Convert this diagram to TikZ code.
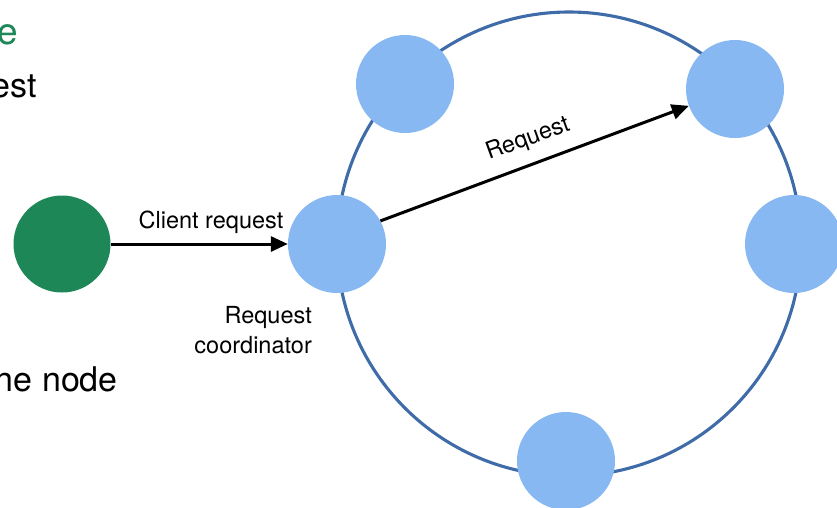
\documentclass[tikz,border=0pt]{standalone}
\usepackage{fontspec}
\setmainfont{TeX Gyre Heros}
\usetikzlibrary{arrows.meta}
\definecolor{nodeblue}{HTML}{88B8F2}
\definecolor{ringblue}{HTML}{3F6CA8}
\definecolor{clientgreen}{HTML}{1E8757}
\begin{document}
\begin{tikzpicture}[x=1pt,y=-1pt,
  server/.style={circle, fill=nodeblue, minimum size=98pt, inner sep=0pt},
  client/.style={circle, fill=clientgreen, minimum size=97pt, inner sep=0pt},
  ringstyle/.style={circle, draw=ringblue, line width=3.1pt, minimum size=464pt, inner sep=0pt},
  arrowline/.style={line width=3pt, -{Triangle[length=17pt,width=15pt]}},
  lbl/.style={font=\fontsize{23.5}{30}\selectfont, inner sep=0pt},
  big/.style={font=\fontsize{34}{40}\selectfont, inner sep=0pt}]
\clip (0,0) rectangle (837,507);
\fill[white] (0,0) rectangle (837,507);
% partial texts at left edge
\node[big, anchor=base east, text=clientgreen, font=\fontsize{37}{40}\selectfont] (t1) at (18,44) {e};
\node[big, anchor=base east] (t2) at (37,97) {est};
\node[big, anchor=base east] (t3) at (118,391) {ne node};
% ring
\node[ringstyle] (ring) at (569,244) {};
% servers
\node[server] (tl) at (405,84) {};
\node[server] (tr) at (735,89) {};
\node[server] (rt) at (794,244) {};
\node[server] (co) at (337,244) {};
\node[server] (bt) at (566,461) {};
% client
\node[client] (cl) at (62,244) {};
% arrows
\draw[arrowline] (cl.east) -- (co.west);
\node[lbl, anchor=base] (l1) at (211,228) {Client request};
\draw[arrowline] (co.28) -- (tr.200);
\node[lbl, anchor=base, rotate=20] (l2) at (530,145) {Request};
\node[lbl, anchor=north east, align=right] (l3) at (312,306) {Request\\coordinator};
\end{tikzpicture}
\end{document}
